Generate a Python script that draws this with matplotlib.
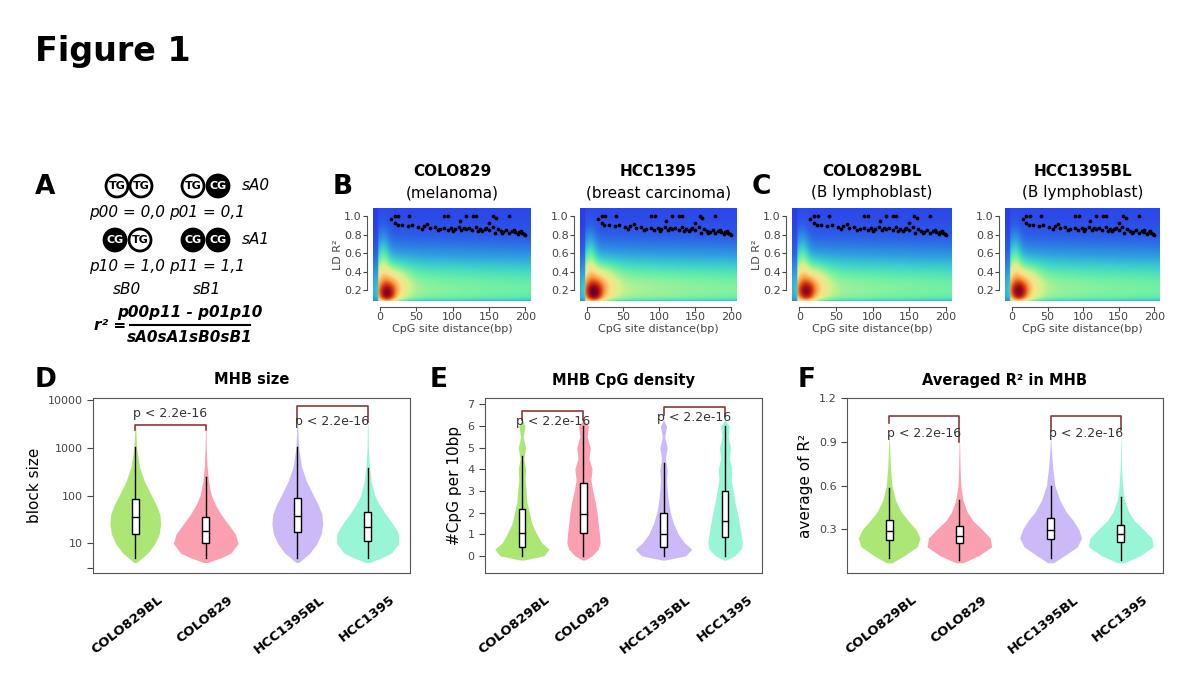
import numpy as np
import matplotlib.pyplot as plt
from matplotlib.colors import LinearSegmentedColormap
from matplotlib.patches import Circle

W, H = 1200, 675

# ---- panel B/C data ----
heat_titles = ["COLO829", "HCC1395", "COLO829BL", "HCC1395BL"]
heat_subtitles = ["(melanoma)", "(breast carcinoma)", "(B lymphoblast)", "(B lymphoblast)"]
# colour-level shape per panel: peak y, far-field level, hot-spot strength
peak_y = [0.15, 0.16, 0.17, 0.17]
far_level = [0.55, 0.58, 0.56, 0.56]
peak_amp = [0.32, 0.32, 0.28, 0.30]
# black dots (distance, R^2)
dot_x = [15, 20, 24, 30, 38, 44, 52, 60, 68, 75, 82, 88, 93, 98, 103, 108, 112, 118, 122,
         127, 132, 137, 141, 146, 150, 155, 158, 162, 166, 170, 174, 178, 182, 186, 190,
         194, 198, 200, 20, 40, 88, 94, 118, 128, 132, 156, 160, 178, 25, 65, 110, 150,
         57, 79, 101, 115, 135, 144, 168, 185, 192, 196]
dot_y = [0.97, 0.93, 0.91, 0.90, 0.89, 0.90, 0.88, 0.89, 0.87, 0.88, 0.86, 0.87, 0.85,
         0.87, 0.86, 0.88, 0.85, 0.86, 0.87, 0.85, 0.88, 0.86, 0.84, 0.87, 0.85, 0.88,
         0.82, 0.86, 0.84, 0.83, 0.85, 0.82, 0.84, 0.83, 0.81, 0.84, 0.81, 0.80,
         1.0, 1.0, 1.0, 1.0, 1.0, 1.0, 1.0, 1.0, 0.98, 1.0, 1.0, 0.92, 0.95, 0.93,
         0.86, 0.85, 0.84, 0.87, 0.84, 0.86, 0.82, 0.85, 0.83, 0.82]

# ---- panel D/E/F data ----
groups = ["COLO829BL", "COLO829", "HCC1395BL", "HCC1395"]
colors = ["#9ee35e", "#fb8fa3", "#c4aef7", "#86f5cf"]
positions = [1, 2, 3.3, 4.3]

# D: block size (log10 levels, half widths)
d_lv = [0.6, 0.7, 0.8, 1.0, 1.2, 1.4, 1.6, 1.8, 2.0, 2.3, 2.6, 3.0, 3.5]
d_w = [[0.02, 0.10, 0.18, 0.28, 0.34, 0.36, 0.35, 0.30, 0.23, 0.13, 0.06, 0.02, 0.004],
       [0.03, 0.22, 0.36, 0.46, 0.42, 0.32, 0.22, 0.14, 0.08, 0.04, 0.02, 0.008, 0.003],
       [0.02, 0.10, 0.18, 0.28, 0.34, 0.36, 0.35, 0.30, 0.23, 0.13, 0.06, 0.02, 0.004],
       [0.03, 0.20, 0.34, 0.44, 0.44, 0.36, 0.26, 0.17, 0.10, 0.05, 0.025, 0.01, 0.004]]
d_box = [[5, 16, 35, 85, 1050], [5, 10, 18, 36, 250], [5, 17, 38, 90, 1050], [5, 11, 22, 45, 370]]

# E: CpG density
e_lv = [-0.2, 0.0, 0.3, 0.6, 1.0, 1.5, 2.0, 2.5, 3.0, 3.5, 4.0, 4.5, 5.0, 5.5, 6.0, 6.3]
e_w = [[0.03, 0.36, 0.44, 0.32, 0.24, 0.16, 0.12, 0.08, 0.07, 0.05, 0.06, 0.03, 0.06, 0.02, 0.05, 0.0],
       [0.02, 0.14, 0.24, 0.27, 0.26, 0.24, 0.22, 0.19, 0.15, 0.12, 0.14, 0.09, 0.11, 0.06, 0.08, 0.0],
       [0.03, 0.36, 0.46, 0.34, 0.24, 0.16, 0.11, 0.08, 0.06, 0.05, 0.06, 0.03, 0.06, 0.02, 0.05, 0.0],
       [0.02, 0.16, 0.26, 0.28, 0.26, 0.23, 0.20, 0.16, 0.13, 0.10, 0.11, 0.07, 0.09, 0.05, 0.07, 0.0]]
e_box = [[0, 0.4, 1.05, 2.15, 4.6], [0, 1.05, 1.95, 3.35, 6.0], [0, 0.4, 1.0, 2.0, 4.3], [0, 0.85, 1.6, 3.0, 6.0]]

# F: averaged R^2
f_lv = [0.07, 0.12, 0.18, 0.24, 0.30, 0.36, 0.42, 0.50, 0.60, 0.72, 0.85, 0.96]
f_w = [[0.04, 0.22, 0.40, 0.44, 0.38, 0.27, 0.17, 0.09, 0.04, 0.02, 0.008, 0.0],
       [0.05, 0.28, 0.46, 0.44, 0.32, 0.19, 0.11, 0.05, 0.02, 0.01, 0.005, 0.0],
       [0.04, 0.20, 0.38, 0.44, 0.40, 0.32, 0.22, 0.13, 0.06, 0.03, 0.01, 0.0],
       [0.05, 0.28, 0.46, 0.44, 0.32, 0.19, 0.11, 0.05, 0.025, 0.01, 0.005, 0.0]]
f_box = [[0.1, 0.225, 0.285, 0.365, 0.58], [0.09, 0.205, 0.255, 0.32, 0.5],
         [0.1, 0.23, 0.295, 0.375, 0.6], [0.09, 0.21, 0.265, 0.33, 0.52]]

fig = plt.figure(figsize=(12, 6.75), dpi=100)


def px_axes(l, t, r, b):
    return fig.add_axes([l / W, 1 - b / H, (r - l) / W, (b - t) / H])


def ftext(x, y, s, **kw):
    fig.text(x / W, 1 - y / H, s, **kw)


ftext(35, 52, "Figure 1", fontsize=24, fontweight="bold", va="center")
for lab, x, y in [("A", 35, 187), ("B", 333, 187), ("C", 752, 187),
                  ("D", 35, 380), ("E", 430, 380), ("F", 798, 380)]:
    ftext(x, y, lab, fontsize=19, fontweight="bold", va="center")

# ---- panel A ----
axA = px_axes(80, 165, 300, 350)
axA.set_xlim(80, 300)
axA.set_ylim(350, 165)
axA.set_aspect("equal")
axA.axis("off")


def site(x, y, meth):
    axA.add_patch(Circle((x, y), 11, facecolor="black" if meth else "white",
                         edgecolor="black", lw=2))
    axA.text(x, y, "CG" if meth else "TG", ha="center", va="center", fontsize=8,
             fontweight="bold", color="white" if meth else "black")


for x, y, m in [(117, 186, 0), (141, 186, 0), (193, 186, 0), (218, 186, 1),
                (115, 240, 1), (140, 240, 0), (193, 240, 1), (218, 240, 1)]:
    site(x, y, m)
it = dict(style="italic", fontsize=11, va="center")
axA.text(242, 186, "sA0", **it)
axA.text(242, 240, "sA1", **it)
axA.text(127, 212, "p00 = 0,0", ha="center", **it)
axA.text(207, 212, "p01 = 0,1", ha="center", **it)
axA.text(127, 266, "p10 = 1,0", ha="center", **it)
axA.text(207, 266, "p11 = 1,1", ha="center", **it)
axA.text(127, 289, "sB0", ha="center", **it)
axA.text(207, 289, "sB1", ha="center", **it)
axA.text(110, 326, "r² =", ha="center", fontweight="bold", **it)
axA.text(190, 312, "p00p11 - p01p10", ha="center", fontweight="bold", **it)
axA.plot([130, 250], [325, 325], color="black", lw=1.5)
axA.text(190, 338, "sA0sA1sB0sB1", ha="center", fontweight="bold", **it)

# ---- panels B/C ----
cmap = LinearSegmentedColormap.from_list(
    "ld", [(0.0, "#2a2ee8"), (0.15, "#2d5de8"), (0.28, "#2fa0e0"), (0.38, "#3fd6c8"),
           (0.46, "#6ef0a4"), (0.56, "#d8f28a"), (0.64, "#fbe08a"), (0.74, "#f8a040"),
           (0.85, "#d83a14"), (0.93, "#a80f14"), (1.0, "#6a0030")])
heat_boxes = [(373, 208, 531, 301), (580, 208, 737, 301), (792, 208, 952, 301), (1005, 208, 1160, 301)]
gx = np.linspace(-10, 208, 300)
gy = np.linspace(0.08, 1.09, 200)
X, Y = np.meshgrid(gx, gy)
for i, (l, t, r, b) in enumerate(heat_boxes):
    ax = px_axes(l, t, r, b)
    fade = 0.8 + 0.2 * np.exp(-np.clip(X, 0, None) / 150)
    V = 0.08 + (far_level[i] - 0.08) * fade * np.exp(-(np.clip(Y - 0.2, 0, None) / 0.45) ** 2)
    V = V - 0.15 * np.exp(-(Y - 0.08) / 0.025)
    V = V + 0.14 * np.exp(-((X - 4) / 9) ** 2) * np.exp(-((Y - 0.6) / 0.3) ** 2)
    V = V + 0.2 * np.exp(-((X - 14) / 24) ** 2 - ((Y - 0.25) / 0.22) ** 2)
    V = V + peak_amp[i] * np.exp(-((X - 9) / 12) ** 2 - ((Y - peak_y[i]) / 0.12) ** 2)
    V = np.where(X < -3, V * 0.5, V)
    ax.imshow(V, extent=(-10, 208, 0.08, 1.09), origin="lower", aspect="auto", cmap=cmap,
              vmin=0, vmax=1.05, interpolation="bilinear")
    ax.scatter(dot_x, dot_y, s=3, color="black", zorder=3)
    ax.set_xlim(-10, 208)
    ax.set_ylim(0.08, 1.09)
    for sp in ["top", "right"]:
        ax.spines[sp].set_visible(False)
    ax.spines["left"].set_bounds(0.2, 1.0)
    ax.spines["bottom"].set_bounds(0, 200)
    ax.spines["left"].set_position(("outward", 4))
    ax.spines["bottom"].set_position(("outward", 4))
    ax.spines["left"].set_color("#555555")
    ax.spines["bottom"].set_color("#555555")
    ax.set_xticks([0, 50, 100, 150, 200])
    ax.set_yticks([0.2, 0.4, 0.6, 0.8, 1.0])
    ax.tick_params(labelsize=8, colors="#444444", length=3, pad=1)
    ax.set_xlabel("CpG site distance(bp)", fontsize=8, color="#444444", labelpad=1)
    if i in (0, 2):
        ax.set_ylabel("LD R²", fontsize=8, color="#444444", labelpad=1)
    cx = (l + r) / 2
    ftext(cx, 172, heat_titles[i], ha="center", va="center", fontsize=11, fontweight="bold")
    ftext(cx, 193, heat_subtitles[i], ha="center", va="center", fontsize=11)


# ---- panels D/E/F ----
def violin_panel(box, title, levels, widths, stats, ylim, yticks, ylabel, brackets, logy=False):
    l, t, r, b = box
    ax = px_axes(l, t, r, b)
    lv = np.array(levels)
    for k in range(4):
        yv = 10 ** lv if logy else lv
        wv = np.array(widths[k])
        ax.fill_betweenx(yv, positions[k] - wv, positions[k] + wv, color=colors[k],
                         alpha=0.85, lw=0, zorder=1)
        lo, q1, md, q3, hi = stats[k]
        p = positions[k]
        ax.plot([p, p], [lo, q1], color="black", lw=1, zorder=2)
        ax.plot([p, p], [q3, hi], color="black", lw=1, zorder=2)
        ax.add_patch(plt.Rectangle((p - 0.05, q1), 0.1, q3 - q1, facecolor="white",
                                   edgecolor="black", lw=1, zorder=3))
        ax.plot([p - 0.05, p + 0.05], [md, md], color="black", lw=1, zorder=4)
    for (a, c, ytop, yleft, yright, tx, ty, ha) in brackets:
        ax.plot([positions[a], positions[a], positions[c], positions[c]],
                [yleft, ytop, ytop, yright], color="#8b3a3a", lw=1.2, zorder=5)
        ax.text(tx, ty, "p < 2.2e-16", fontsize=9, ha=ha, va="center", color="#333333", zorder=6)
    if logy:
        ax.set_yscale("log")
        ax.yaxis.set_minor_locator(plt.NullLocator())
    ax.set_ylim(*ylim)
    ax.set_xlim(0.4, 4.9)
    ax.set_yticks(yticks[0])
    ax.set_yticklabels(yticks[1])
    ax.tick_params(axis="y", labelsize=8, colors="#444444", length=4)
    ax.set_xticks(positions)
    ax.set_xticklabels([])
    ax.tick_params(axis="x", length=0)
    for sp in ax.spines.values():
        sp.set_color("#555555")
    ax.set_ylabel(ylabel, fontsize=11)
    for k, g in enumerate(groups):
        px = l + (positions[k] - 0.4) / 4.5 * (r - l)
        ftext(px + 22, b + 20, g, rotation=38, ha="right", va="top", rotation_mode="anchor",
              fontsize=9.5, fontweight="bold")
    ftext((l + r) / 2, 380, title, ha="center", va="center", fontsize=10.5, fontweight="bold")


violin_panel((93, 398, 410, 573), "MHB size", d_lv, d_w, d_box, (2.4, 11000),
             ([3, 10, 100, 1000, 10000], ["", "10", "100", "1000", "10000"]), "block size",
             [(0, 1, 3000, 2400, 2400, 1.5, 5200, "center"),
              (2, 3, 7500, 3500, 3500, 3.8, 3500, "center")], logy=True)
violin_panel((485, 398, 762, 573), "MHB CpG density", e_lv, e_w, e_box, (-0.8, 7.3),
             ([0, 1, 2, 3, 4, 5, 6, 7], [str(v) for v in range(8)]), "#CpG per 10bp",
             [(0, 1, 6.7, 6.3, 6.3, 1.5, 6.2, "center"),
              (2, 3, 6.9, 6.5, 6.5, 3.8, 6.4, "center")])
violin_panel((847, 398, 1163, 573), "Averaged R² in MHB", f_lv, f_w, f_box, (0.0, 1.2),
             ([0.3, 0.6, 0.9, 1.2], ["0.3", "0.6", "0.9", "1.2"]), "average of R²",
             [(0, 1, 1.08, 1.03, 0.9, 1.5, 0.96, "center"),
              (2, 3, 1.08, 0.98, 0.98, 3.8, 0.96, "center")])

fig.savefig("out.png", dpi=100)
